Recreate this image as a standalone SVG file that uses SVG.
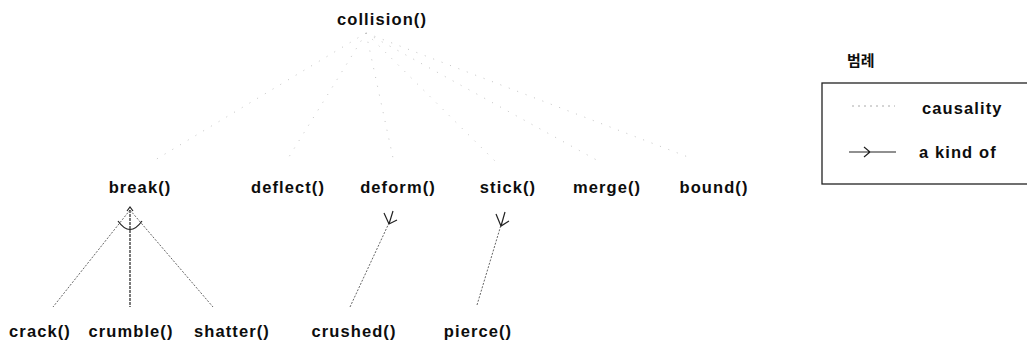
<svg xmlns="http://www.w3.org/2000/svg" width="1027" height="345" viewBox="0 0 1027 345">
<style>
text{font-family:"Liberation Sans",Arial,sans-serif;font-size:16.5px;font-weight:bold;letter-spacing:1.1px;fill:#0d0d0d;text-anchor:middle}
.cause{stroke:#c4c4c4;stroke-width:1;stroke-dasharray:1 8;fill:none}
.kind{stroke:#666;stroke-width:1;stroke-dasharray:2 1.5;fill:none}
.solid{stroke:#222;stroke-width:1.2;fill:none}
</style>
<rect width="1027" height="345" fill="#fff"/>
<g id="connectors">
<path class="cause" d="M366 33 L155 160"/>
<path class="cause" d="M366 33 L287 160"/>
<path class="cause" d="M366 33 L393 158"/>
<path class="cause" d="M366 33 L497 163"/>
<path class="cause" d="M366 33 L602 163"/>
<path class="cause" d="M366 33 L688 157"/>
<path class="kind" d="M130 210 L53 307"/>
<path class="solid" d="M130 210 L130 307" style="stroke-dasharray:3 1"/>
<path class="kind" d="M130 210 L213 307"/>
<path class="solid" d="M118 221 Q130 238 142 221"/>
<path class="solid" d="M127 211 L130 207 L133 211"/>
<path class="kind" d="M350 307 L389 223"/>
<path class="solid" d="M384 213 L389 224 L397 220 M389 224 L393 211"/>
<path class="kind" d="M477 305 L501 225"/>
<path class="solid" d="M496 214 L501 226 L509 221 M501 226 L505 212"/>
</g>
<g id="n-collision"><text x="382" y="25">collision()</text></g>
<g id="n-break"><text x="140" y="193">break()</text></g>
<g id="n-deflect"><text x="288" y="193">deflect()</text></g>
<g id="n-deform"><text x="398" y="193">deform()</text></g>
<g id="n-stick"><text x="508" y="193">stick()</text></g>
<g id="n-merge"><text x="607" y="193">merge()</text></g>
<g id="n-bound"><text x="714" y="193">bound()</text></g>
<g id="n-crack"><text x="40" y="337">crack()</text></g>
<g id="n-crumble"><text x="131" y="337">crumble()</text></g>
<g id="n-shatter"><text x="232" y="337">shatter()</text></g>
<g id="n-crushed"><text x="354" y="337">crushed()</text></g>
<g id="n-pierce"><text x="478" y="337">pierce()</text></g>
<g id="legend">
<text x="847" y="66" style="font-family:'Noto Sans CJK KR',sans-serif;font-size:15px;letter-spacing:0;text-anchor:start">범례</text>
<rect x="822" y="83" width="210" height="101" fill="none" stroke="#222" stroke-width="1.3"/>
<path class="cause" d="M852 106 L895 106" style="stroke:#aaa;stroke-dasharray:2 4"/>
<text x="922" y="114" style="text-anchor:start">causality</text>
<path class="solid" d="M849 152 L896 152 M864 147 L870 152 L864 157"/>
<text x="919" y="158" style="text-anchor:start">a kind of</text>
</g>
</svg>
